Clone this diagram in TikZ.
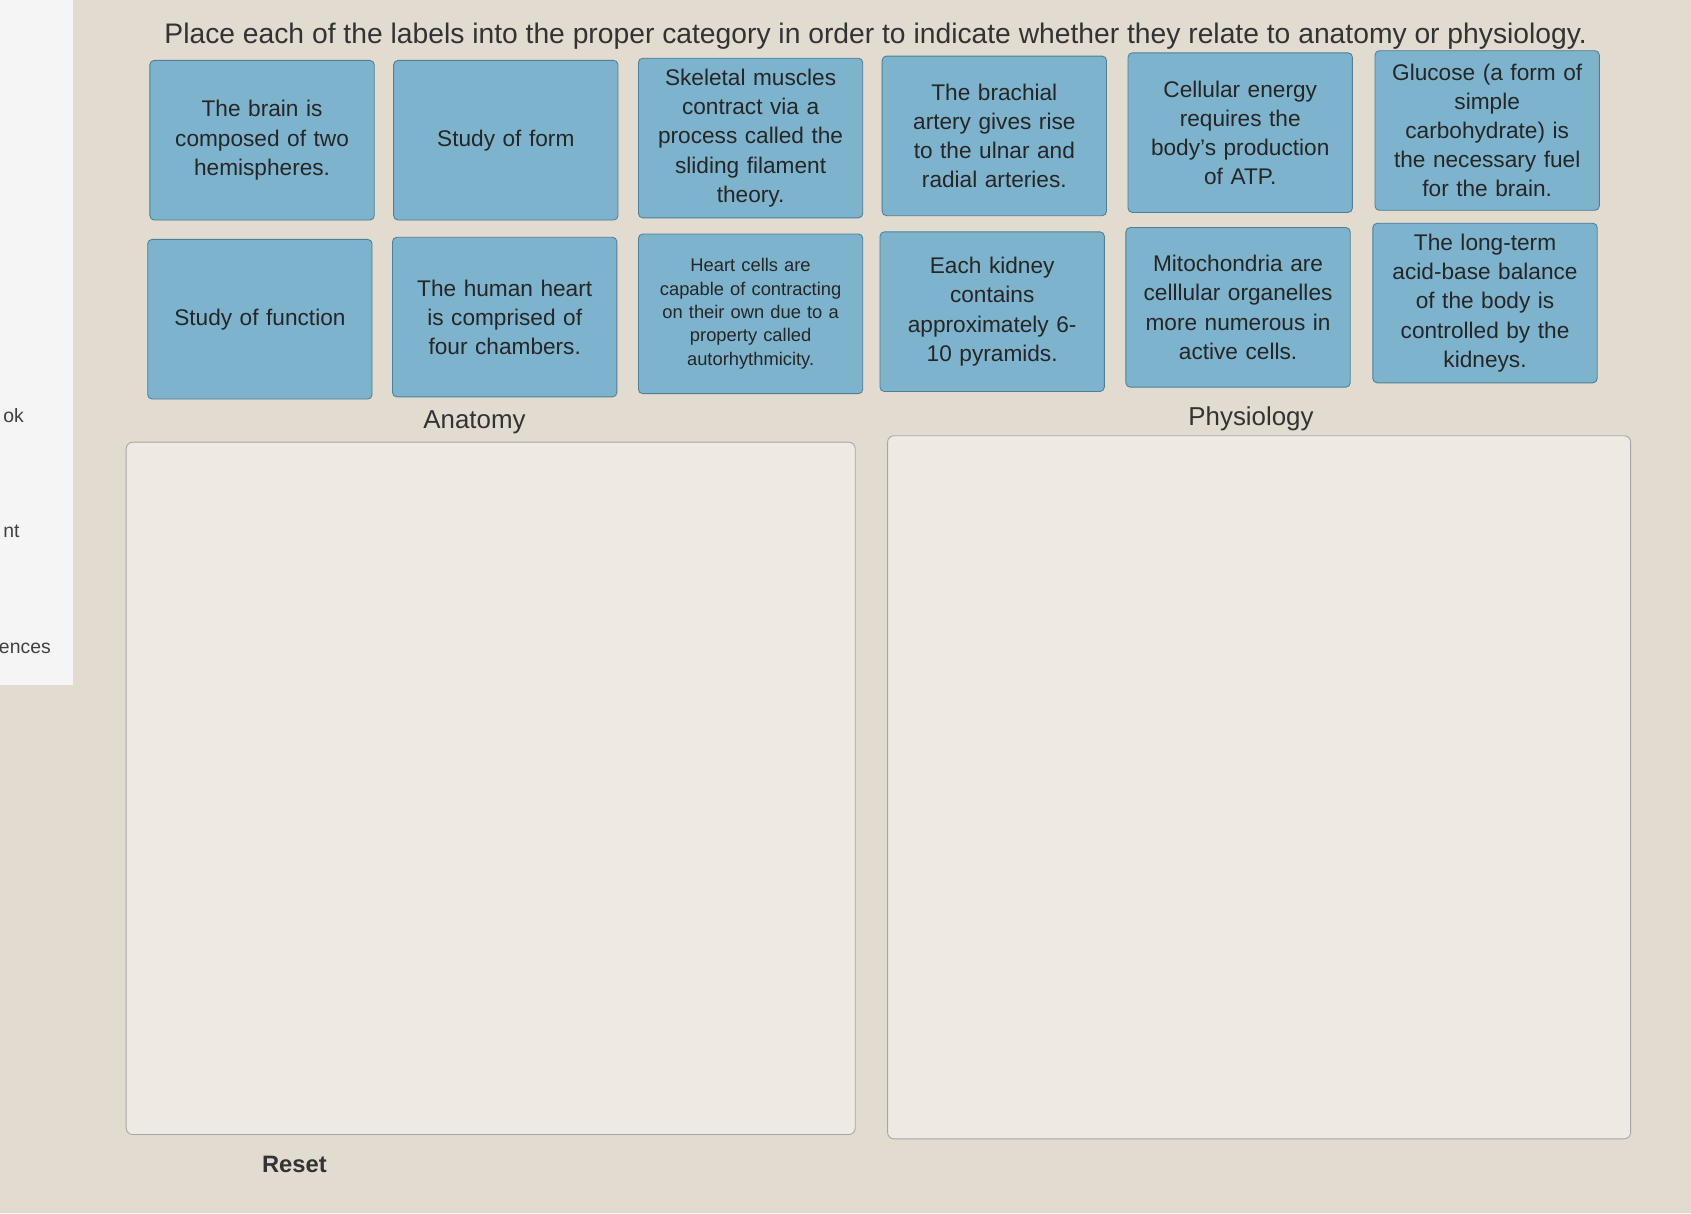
\documentclass[tikz,border=0pt]{standalone}
\usepackage{fontspec}
\setmainfont{Liberation Sans}
\usetikzlibrary{positioning}
\definecolor{paper}{HTML}{E2DBCF}
\definecolor{tile}{HTML}{7DB3CC}
\definecolor{tileedge}{HTML}{4F7F95}
\tikzset{card/.style={draw=tileedge, fill=tile, rounded corners=2pt, minimum width=104pt, minimum height=74pt,
          text width=96pt, align=center, font=\fontsize{10.5}{13.5}\selectfont, text=black!85},
        small card/.style={card, font=\fontsize{8.5}{10.8}\selectfont},
        bin/.style={draw=black!35, fill=paper!60!white, rounded corners=3pt},
        heading/.style={font=\fontsize{12}{14}\selectfont, text=black!80},
}
\begin{document}
\begin{tikzpicture}[x=0.5pt, y=-0.5pt]
  \fill[paper] (0,0) rectangle (1568,1125);
  \useasboundingbox (0,0) rectangle (1568,1125);
  % side bar
  \fill[black!4] (0,0) rectangle (68,635);
  \node[font=\small, text=black!75, anchor=west] (side1) at (-4,385) {ok};
  \node[font=\small, text=black!75, anchor=west] (side2) at (-4,493) {nt};
  \node[font=\small, text=black!75, anchor=west] (side3) at (-8,601) {ences};
  % title
  \node[font=\fontsize{13.1}{15}\selectfont, text=black!80] (title) at (812,34)
    {Place each of the labels into the proper category in order to indicate whether they relate to anatomy or physiology.};
  % first row
  \node[card] (c11) at (243,130) {The brain is\\composed of two\\hemispheres.};
  \node[card] (c12) at (469,130) {Study of form};
  \node[card] (c13) at (696,128) {Skeletal muscles\\contract via a\\process called the\\sliding filament\\theory.};
  \node[card] (c14) at (922,126) {The brachial\\artery gives rise\\to the ulnar and\\radial arteries.};
  \node[card] (c15) at (1150,123) {Cellular energy\\requires the\\body's production\\of ATP.};
  \node[card] (c16) at (1379,121) {Glucose (a form of\\simple\\carbohydrate) is\\the necessary fuel\\for the brain.};
  % second row
  \node[card] (c21) at (241,296) {Study of function};
  \node[card] (c22) at (468,294) {The human heart\\is comprised of\\four chambers.};
  \node[small card] (c23) at (696,291) {Heart cells are\\capable of contracting\\on their own due to a\\property called\\autorhythmicity.};
  \node[card] (c24) at (920,289) {Each kidney\\contains\\approximately 6-\\10 pyramids.};
  \node[card] (c25) at (1148,285) {Mitochondria are\\celllular organelles\\more numerous in\\active cells.};
  \node[card] (c26) at (1377,281) {The long-term\\acid-base balance\\of the body is\\controlled by the\\kidneys.};
  % categories
  \node[heading] (anatomy) at (440,392) {Anatomy};
  \node[heading] (physiology) at (1160,388) {Physiology};
  \draw[bin] (117,410) rectangle (793,1052);
  \draw[bin] (823,404) rectangle (1512,1056);
  \node[font=\bfseries\fontsize{11}{13}\selectfont, text=black!80] (reset) at (273,1080) {Reset};
\end{tikzpicture}
\end{document}
